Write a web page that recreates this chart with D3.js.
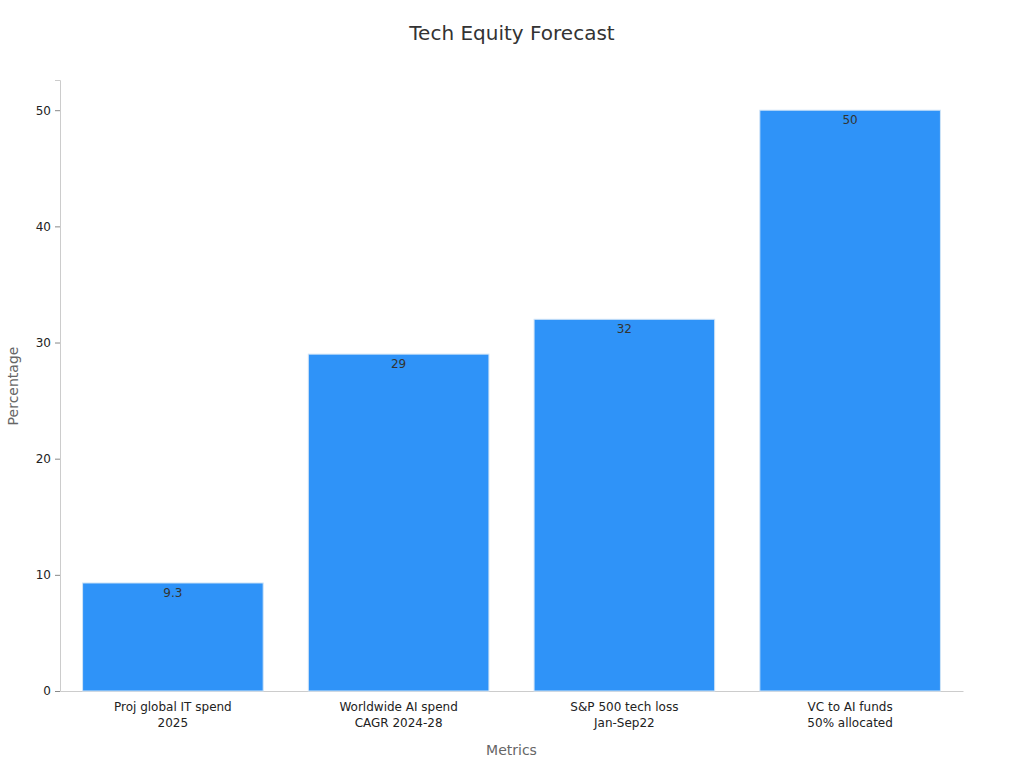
<!DOCTYPE html>
<html lang="en">
  <head>
    <meta charset="utf-8">
    <title>Tech Equity Forecast</title>
    <script src="https://cdn.jsdelivr.net/npm/d3@7"></script>
    <style>
      body { margin: 0; background: #fff; font-family: "DejaVu Sans", sans-serif; }
    </style>
  </head>
  <body>
    <svg width="1024" height="768"></svg>
  <script>
    const categories = [["Proj global IT spend", "2025"], ["Worldwide AI spend", "CAGR 2024-28"], ["S&P 500 tech loss", "Jan-Sep22"], ["VC to AI funds", "50% allocated"]]
    const values = [9.3, 29, 32, 50]
    const yTicks = [0, 10, 20, 30, 40, 50]

    const svg = d3.select('svg')
    const mLeft = 60, mRight = 963, mTop = 80, mBottom = 691

    const x = d3.scaleBand().domain(d3.range(categories.length)).range([mLeft, mRight]).paddingInner(0.2).paddingOuter(0.1)
    const y = d3.scaleLinear().domain([0, 52.6]).range([mBottom, mTop])

    svg.append('text').attr('x', 512).attr('y', 40).attr('text-anchor', 'middle')
      .attr('font-size', 20).attr('fill', '#333').text('Tech Equity Forecast')

    // y axis
    const yAxis = svg.append('g').attr('transform', 'translate(' + mLeft + ',0)')
      .call(d3.axisLeft(y).tickValues(yTicks).tickSize(5).tickPadding(4))
    yAxis.select('.domain').attr('stroke', '#ccc')
    yAxis.selectAll('.tick line').attr('stroke', '#888')
    yAxis.selectAll('text').attr('font-size', 12).attr('fill', '#222').attr('font-family', 'DejaVu Sans')

    // x axis
    const xAxis = svg.append('g').attr('transform', 'translate(0,' + mBottom + ')')
      .call(d3.axisBottom(x).tickSize(0).tickFormat(''))
    xAxis.select('.domain').attr('stroke', '#ccc')
    categories.forEach((c, i) => {
      const t = svg.append('text').attr('text-anchor', 'middle').attr('font-size', 12).attr('fill', '#222')
      c.forEach((line, j) => {
        t.append('tspan').attr('x', x(i) + x.bandwidth() / 2).attr('y', mBottom + 20 + j * 16).text(line)
      })
    })

    svg.selectAll('rect.bar').data(values).enter().append('rect')
      .attr('class', 'bar')
      .attr('x', (d, i) => x(i)).attr('width', x.bandwidth())
      .attr('y', d => y(d)).attr('height', d => mBottom - y(d))
      .attr('fill', '#2f93f8').attr('stroke', '#d0e4f7').attr('stroke-width', 1)

    svg.selectAll('text.val').data(values).enter().append('text')
      .attr('class', 'val').attr('text-anchor', 'middle')
      .attr('x', (d, i) => x(i) + x.bandwidth() / 2).attr('y', d => y(d) + 14)
      .attr('font-size', 12).attr('fill', '#333').text(d => d)

    svg.append('text').attr('x', (mLeft + mRight) / 2).attr('y', 755).attr('text-anchor', 'middle')
      .attr('font-size', 14).attr('fill', '#666').text('Metrics')
    svg.append('text').attr('transform', 'translate(18,386) rotate(-90)').attr('text-anchor', 'middle')
      .attr('font-size', 14).attr('fill', '#666').text('Percentage')
  </script>
  </body>
</html>
